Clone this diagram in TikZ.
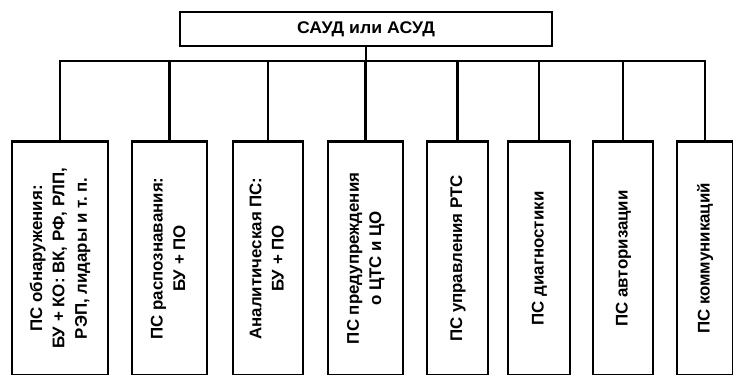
\documentclass[tikz,border=0pt]{standalone}
\usepackage{fontspec}
\setmainfont{Liberation Sans}
\usepackage{graphicx}

\begin{document}
\begin{tikzpicture}[x=0.025cm,y=-0.025cm,font=\bfseries\fontsize{12}{16}\selectfont,
  sysbox/.style={draw,line width=2pt,inner sep=0pt},
  psbox/.style={draw,line width=2pt,inner sep=0pt,anchor=north,minimum height=5.85cm},
  link/.style={line width=1.8pt}]
\useasboundingbox (0,0) rectangle (733,375);
\node[sysbox,minimum width=9.3cm,minimum height=0.85cm] (saud) at (366,29)
  {\scalebox{1.05}[1]{САУД или АСУД}};
\coordinate (bus) at (366,61);
\foreach \n/\x/\w/\t in {1/60/96/{ПС обнаружения:\\БУ + КО: ВК, РФ, РЛП,\\РЭП, лидары и т.~п.},
    2/169.5/75/{ПС распознавания:\\БУ + ПО},
    3/268/70/{Аналитическая ПС:\\БУ + ПО},
    4/365.5/75/{ПС предупреждения\\о ЦТС и ЦО},
    5/457.5/61/{ПС управления РТС},
    6/539/62/{ПС диагностики},
    7/623/60/{ПС авторизации},
    8/705/56/{ПС коммуникаций}}
  \node[psbox,minimum width=\w*0.025cm] (ps\n) at (\x,140)
    {\rotatebox{90}{\begin{tabular}{@{}c@{}}\t\end{tabular}}};
\draw[link] (saud) -- (saud |- bus);
\draw[link] (ps1.north) |- (bus) -| (ps8.north);
\foreach \n in {2,...,7}
  \draw[link] (ps\n.north) -- (ps\n.north |- bus);
\end{tikzpicture}
\end{document}
